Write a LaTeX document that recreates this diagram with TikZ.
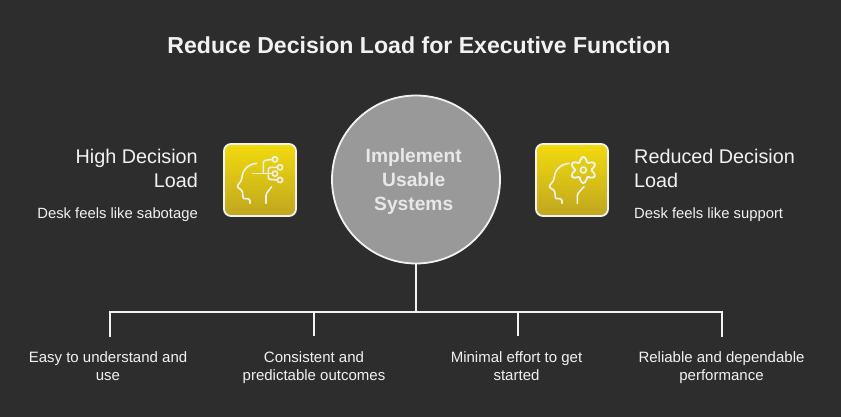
\documentclass[tikz,border=0pt]{standalone}
\usepackage{fontspec}
\setmainfont{Liberation Sans}
\definecolor{bgc}{HTML}{2D2D2D}
\definecolor{linec}{HTML}{F2F2F2}
\definecolor{hubc}{HTML}{999999}
\definecolor{hubt}{HTML}{E8E8E8}
\definecolor{boxtop}{HTML}{F2DB0C}
\definecolor{boxbot}{HTML}{BFA61F}
\tikzset{
  wire/.style={draw=linec,line width=2pt},
  iconline/.style={draw=linec,line width=1.6pt,line cap=round,line join=round,rounded corners=1.5pt},
  hub/.style={circle,draw=linec,line width=1.8pt,fill=hubc,minimum size=168pt,inner sep=0pt},
  hubtext/.style={text=hubt,align=center,inner sep=0pt,font=\fontsize{19.2}{24}\selectfont\bfseries},
  iconbox/.style={rectangle,rounded corners=7pt,draw=linec,line width=1.8pt,top color=boxtop,bottom color=boxbot,minimum size=72pt,inner sep=0pt},
  head/.style={text=linec,font=\fontsize{19.8}{24}\selectfont},
  sub/.style={text=linec,font=\fontsize{14.8}{18}\selectfont},
  item/.style={text=linec,font=\fontsize{15}{18}\selectfont,align=center,inner sep=0pt}
}
\begin{document}
\begin{tikzpicture}[x=1pt,y=-1pt]
\useasboundingbox[fill=bgc] (0,0) rectangle (841,417);
\node[text=linec,font=\fontsize{23.1}{26}\selectfont\bfseries,inner sep=0pt] (title) at (419,45.5) {Reduce Decision Load for Executive Function};
\coordinate (bus) at (416,312);
\coordinate (busl) at (110,312);
\coordinate (busr) at (722,312);
\coordinate (d1) at (110,336);
\coordinate (d2) at (314,336);
\coordinate (d3) at (518,336);
\coordinate (d4) at (722,336);
\coordinate (t2) at (314,312);
\coordinate (t3) at (518,312);
\node[hub] (core) at (416,179.5) {};
\node[hubtext] (corelabel) at (413.7,181.5) {Implement\\Usable\\Systems};
\draw[wire] (core.south) -- (bus);
\draw[wire,line cap=rect] (d1) -- (busl) -- (busr) -- (d4);
\draw[wire] (t2) -- (d2);
\draw[wire] (t3) -- (d3);
\node[iconbox] (boxl) at (260,180) {};
\node[iconbox] (boxr) at (572,180) {};
\begin{scope}[shift={(210pt,-130pt)},x=0.3333pt,y=-0.3333pt]
  \draw[iconline] (140,100) .. controls (110,103) and (96,125) .. (95,150) -- (80,170) -- (97,182) -- (99,200) .. controls (100,206) and (110,206) .. (120,207) -- (120,220);
  \draw[iconline] (168,220) -- (168,192) -- (185,170);
  \draw[iconline] (128,131) -- (187,131);
  \draw[iconline] (160,131) -- (160,92) -- (187,88);
  \draw[iconline] (202,112) -- (175,112) -- (175,148) -- (202,150);
  \draw[iconline] (195,88) circle[radius=8];
  \draw[iconline] (210,112) circle[radius=8];
  \draw[iconline] (195,131) circle[radius=8];
  \draw[iconline] (210,150) circle[radius=8];
\end{scope}
\begin{scope}[shift={(525pt,-130pt)},x=0.3333pt,y=-0.3333pt]
  \draw[iconline] (132,100) .. controls (102,103) and (88,125) .. (87,150) -- (71,170) -- (89,182) -- (91,200) .. controls (92,206) and (102,206) .. (111,207) -- (111,220);
  \draw[iconline] (157,220) -- (157,192) -- (177,170);
  \draw[iconline] plot[domain=0:360,samples=121,smooth] ({175+cos(\x)*(32+6*cos(6*(\x-90)))},{120+sin(\x)*(32+6*cos(6*(\x-90)))}) -- cycle;
  \draw[iconline] (175,120) circle[radius=9];
\end{scope}
\node[head,anchor=east,align=right,inner sep=0pt] (lt) at (198,170.5) {\strut High Decision\\\strut Load};
\node[sub,anchor=east,inner sep=0pt] (ls) at (198,214.5) {\strut Desk feels like sabotage};
\node[head,anchor=west,align=left,inner sep=0pt] (rt) at (634,170.5) {\strut Reduced Decision\\\strut Load};
\node[sub,anchor=west,inner sep=0pt] (rs) at (634,214.5) {\strut Desk feels like support};
\node[item] (i1) at (108,367.5) {\strut Easy to understand and\\\strut use};
\node[item] (i2) at (314,367.5) {\strut Consistent and\\\strut predictable outcomes};
\node[item] (i3) at (516.5,367.5) {\strut Minimal effort to get\\\strut started};
\node[item] (i4) at (721.5,367.5) {\strut Reliable and dependable\\\strut performance};
\end{tikzpicture}
\end{document}
